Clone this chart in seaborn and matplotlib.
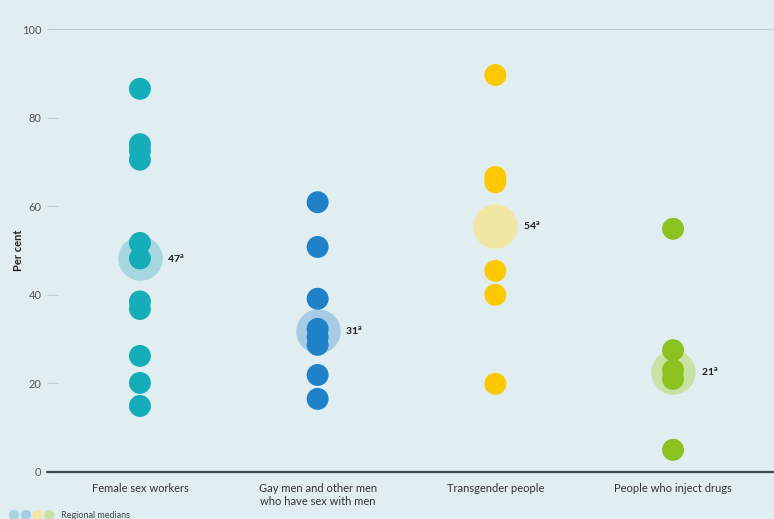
import matplotlib
matplotlib.use("Agg")
import matplotlib.pyplot as plt
import seaborn as sns
import pandas as pd

# values (per cent)
categories = ["Female sex workers", "Gay men and other men\nwho have sex with men",
              "Transgender people", "People who inject drugs"]
fsw = [86.5, 74.0, 72.5, 70.5, 51.7, 48.2, 38.5, 36.8, 26.2, 20.1, 14.9]
msm = [60.9, 50.8, 39.1, 32.3, 30.5, 28.7, 21.9, 16.5]
tg = [89.6, 66.6, 65.4, 45.4, 40.0, 19.9]
pwid = [54.9, 27.5, 23.0, 21.0, 5.0]
median_pos = [48.2, 31.8, 55.5, 22.6]
median_labels = ["47", "31", "54", "21"]

dot_colors = ["#14adb9", "#1f82c8", "#fdc800", "#8dc11f"]
halo_colors = ["#a5d7de", "#a7cbe4", "#f1e6a4", "#c8e2a5"]
bg = "#e1eef1"

rows = []
for cat, vals in zip(categories, [fsw, msm, tg, pwid]):
    for v in vals:
        rows.append({"group": cat, "value": v})
df = pd.DataFrame(rows)
med = pd.DataFrame({"group": categories, "value": median_pos})

sns.set_style("white")
plt.rcParams["font.family"] = ["Lato", "DejaVu Sans"]
plt.rcParams["mathtext.fontset"] = "custom"
plt.rcParams["mathtext.bf"] = "Lato:bold"

fig = plt.figure(figsize=(7.74, 5.19), dpi=100, facecolor=bg)
ax = fig.add_axes([0.0607, 0.0906, 0.9393, 0.8535])
ax.set_facecolor(bg)

sns.stripplot(data=med, x="group", y="value", hue="group", order=categories,
              palette=halo_colors, jitter=False, size=32, linewidth=0,
              legend=False, ax=ax, zorder=2)
sns.stripplot(data=df, x="group", y="value", hue="group", order=categories,
              palette=dot_colors, jitter=False, size=15.8, linewidth=0,
              legend=False, ax=ax, zorder=3)

for i, (m, lab) in enumerate(zip(median_pos, median_labels)):
    ax.text(i + 0.155, m, lab + r"$^{\mathbf{a}}$", fontsize=7.5, fontweight="bold",
            color="#1a1a1a", va="center", ha="left", zorder=4)

ax.set_ylim(0, 100)
ax.set_xlim(-0.523, 3.568)
ax.set_yticks([0, 20, 40, 60, 80, 100])
ax.tick_params(axis="y", left=True, direction="in", length=8, width=0.8,
               color="#bfd0d5", labelsize=8, labelcolor="#555555", pad=4)
ax.tick_params(axis="x", length=0, labelsize=8, labelcolor="#333333", pad=8)
ax.set_xlabel("")
ax.set_ylabel("Per cent", fontsize=8, fontweight="bold", color="#222222")
ax.yaxis.set_label_coords(-0.031, 0.5)
for s in ax.spines.values():
    s.set_visible(False)

ax.axhline(100, color="#bccfd4", lw=0.8, zorder=1, clip_on=False)
ax.axhline(0, color="#3c4a4f", lw=1.6, zorder=1, clip_on=False)

# legend row at the bottom
lx = [14 / 774, 26 / 774, 37.5 / 774, 49 / 774]
ly = 1 - 515 / 519
ax.scatter(lx, [ly] * 4, s=55, c=halo_colors, transform=fig.transFigure,
           clip_on=False, linewidths=0, zorder=5)
fig.text(61 / 774, ly, "Regional medians", fontsize=6.5, color="#444444", va="center")

fig.savefig("out.png", dpi=100, facecolor=bg)
